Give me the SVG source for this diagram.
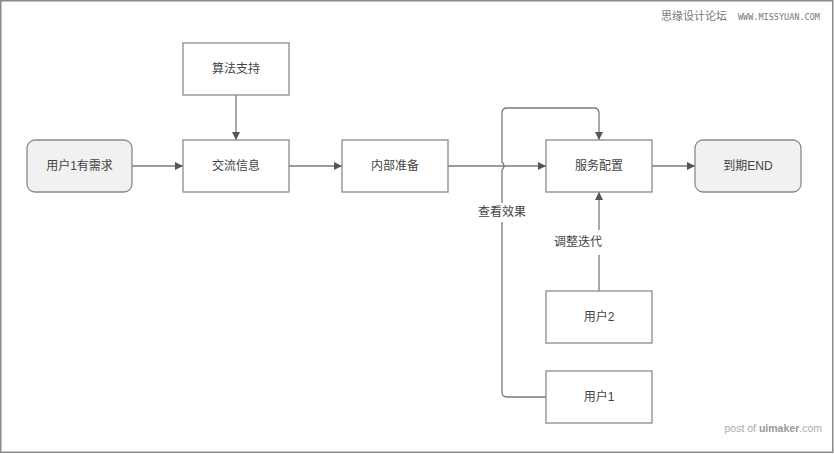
<svg xmlns="http://www.w3.org/2000/svg" width="834" height="454" viewBox="0 0 834 454">
<defs>
<marker id="ah" viewBox="0 0 8 8" refX="8" refY="4" markerWidth="8" markerHeight="8" markerUnits="userSpaceOnUse" orient="auto">
<path d="M0,0 L8,4 L0,8 Z" fill="#555"/>
</marker>
<style>
.box{fill:#ffffff;stroke:#8a8a8a;stroke-width:1.3}
.rbox{fill:#f1f1f1;stroke:#8a8a8a;stroke-width:1.3}
.lbl{font-family:"Liberation Sans","Noto Sans CJK SC",sans-serif;font-size:12px;fill:#444;text-anchor:middle;dominant-baseline:central}
.edge{fill:none;stroke:#7a7a7a;stroke-width:1.3}
.wm{font-family:"DejaVu Sans Mono","Noto Sans CJK SC",monospace;fill:#777}
</style>
</defs>
<rect x="0.75" y="0.75" width="832" height="451.5" fill="#fff" stroke="#8a8a8a" stroke-width="1.5"/>
<text class="wm" x="661" y="20" font-size="11">思缘设计论坛</text>
<text class="wm" x="738" y="20" font-size="8.5">WWW.MISSYUAN.COM</text>
<text x="822" y="432" font-family="'Liberation Sans',sans-serif" font-size="10.5" fill="#aaa" text-anchor="end">post of <tspan font-weight="bold" fill="#999">uimaker</tspan>.com</text>

<g id="connectors">
<path class="edge" d="M132,166 L183,166" marker-end="url(#ah)"/>
<path class="edge" d="M236,95 L236,140" marker-end="url(#ah)"/>
<path class="edge" d="M289,166 L342,166" marker-end="url(#ah)"/>
<path class="edge" d="M448,166 L546,166" marker-end="url(#ah)"/>
<path class="edge" d="M652,166 L695,166" marker-end="url(#ah)"/>
<path class="edge" d="M599,291 L599,255 M599,230 L599,192" marker-end="url(#ah)"/>
<text class="lbl" x="578" y="242">调整迭代</text>
<path class="edge" d="M546,397 L507,397 Q502,397 502,392 L502,222 M502,203 L502,170 Q506,166 502,162 L502,113 Q502,108 507,108 L594,108 Q599,108 599,113 L599,140" marker-end="url(#ah)"/>
<text class="lbl" x="502" y="212">查看效果</text>
</g>

<g id="n-user1need"><rect class="rbox" x="27" y="140" width="105" height="52" rx="8"/><text class="lbl" x="79.5" y="166">用户1有需求</text></g>
<g id="n-algo"><rect class="box" x="183" y="43" width="106" height="52"/><text class="lbl" x="236" y="69">算法支持</text></g>
<g id="n-exchange"><rect class="box" x="183" y="140" width="106" height="52"/><text class="lbl" x="236" y="166">交流信息</text></g>
<g id="n-prepare"><rect class="box" x="342" y="140" width="106" height="52"/><text class="lbl" x="395" y="166">内部准备</text></g>
<g id="n-service"><rect class="box" x="546" y="140" width="106" height="52"/><text class="lbl" x="599" y="166">服务配置</text></g>
<g id="n-end"><rect class="rbox" x="695" y="140" width="106" height="52" rx="8"/><text class="lbl" x="748" y="166">到期END</text></g>
<g id="n-user2"><rect class="box" x="546" y="291" width="106" height="52"/><text class="lbl" x="599" y="317">用户2</text></g>
<g id="n-user1"><rect class="box" x="546" y="371" width="106" height="52"/><text class="lbl" x="599" y="397">用户1</text></g>
</svg>
